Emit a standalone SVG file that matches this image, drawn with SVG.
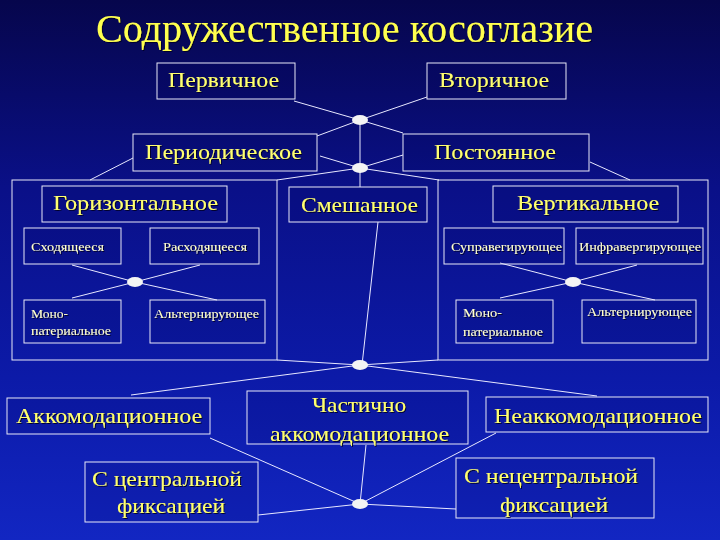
<svg xmlns="http://www.w3.org/2000/svg" width="720" height="540" viewBox="0 0 720 540">
<defs>
<linearGradient id="bg" x1="0" y1="0" x2="0" y2="1">
<stop offset="0" stop-color="#06064c"/>
<stop offset="0.35" stop-color="#0a1088"/>
<stop offset="0.7" stop-color="#0c1aa8"/>
<stop offset="1" stop-color="#1226c2"/>
</linearGradient>
<filter id="sh" x="-5%" y="-20%" width="110%" height="140%">
<feDropShadow dx="1" dy="1" stdDeviation="0.4" flood-color="#000020" flood-opacity="0.9"/>
</filter>
</defs>
<style>
.box{fill:#000050;fill-opacity:0.12;stroke:#e8e8f8;stroke-width:1}
.outer{fill:none;stroke:#e8e8f8;stroke-width:1}
.t{font-family:"Liberation Serif","Times New Roman",serif;fill:#ffff70;font-size:22px;filter:url(#sh)}
.s{font-family:"Liberation Serif","Times New Roman",serif;fill:#ffffd0;font-size:12px;filter:url(#sh)}
.title{font-family:"Liberation Serif","Times New Roman",serif;fill:#ffff50;font-size:40px;filter:url(#sh)}
.c line{stroke:#e8e8ff;stroke-width:1}
.dot{fill:#f4f4f4}
</style>
<rect width="720" height="540" fill="url(#bg)"/>
<text class="title" x="96" y="42" textLength="497" lengthAdjust="spacingAndGlyphs">Содружественное косоглазие</text>

<g id="connectors" class="c">
<line x1="294" y1="101" x2="360" y2="120"/>
<line x1="427" y1="97" x2="360" y2="120"/>
<line x1="360" y1="120" x2="317" y2="136"/>
<line x1="360" y1="120" x2="403" y2="133"/>
<line x1="360" y1="120" x2="360" y2="168"/>
<line x1="320" y1="156" x2="360" y2="168"/>
<line x1="403" y1="155" x2="360" y2="168"/>
<line x1="360" y1="168" x2="277" y2="180"/>
<line x1="360" y1="168" x2="439" y2="180"/>
<line x1="360" y1="168" x2="360" y2="187"/>
<line x1="133" y1="158" x2="90" y2="180"/>
<line x1="590" y1="162" x2="630" y2="180"/>
<line x1="72" y1="265" x2="135" y2="282"/>
<line x1="200" y1="265" x2="135" y2="282"/>
<line x1="72" y1="298" x2="135" y2="282"/>
<line x1="217" y1="300" x2="135" y2="282"/>
<line x1="500" y1="263" x2="573" y2="282"/>
<line x1="637" y1="265" x2="573" y2="282"/>
<line x1="500" y1="298" x2="573" y2="282"/>
<line x1="655" y1="300" x2="573" y2="282"/>
<line x1="378" y1="222" x2="362" y2="365"/>
<line x1="277" y1="360" x2="360" y2="365"/>
<line x1="438" y1="360" x2="360" y2="365"/>
<line x1="131" y1="395" x2="360" y2="365"/>
<line x1="597" y1="396" x2="360" y2="365"/>
<line x1="210" y1="438" x2="360" y2="504"/>
<line x1="366" y1="445" x2="360" y2="504"/>
<line x1="496" y1="433" x2="360" y2="504"/>
<line x1="258" y1="515" x2="360" y2="504"/>
<line x1="456" y1="509" x2="360" y2="504"/>
</g>

<g id="group-left"><rect class="outer" x="12" y="180" width="265" height="180"/></g>
<g id="group-right"><rect class="outer" x="438" y="180" width="270" height="180"/></g>

<g id="dots">
<ellipse class="dot" cx="360" cy="120" rx="8" ry="5"/>
<ellipse class="dot" cx="360" cy="168" rx="8" ry="5"/>
<ellipse class="dot" cx="135" cy="282" rx="8" ry="5"/>
<ellipse class="dot" cx="573" cy="282" rx="8" ry="5"/>
<ellipse class="dot" cx="360" cy="365" rx="8" ry="5"/>
<ellipse class="dot" cx="360" cy="504" rx="8" ry="5"/>
</g>

<g id="n-primary"><rect class="box" x="157" y="63" width="138" height="36"/><text class="t" x="168" y="87" textLength="111" lengthAdjust="spacingAndGlyphs">Первичное</text></g>
<g id="n-secondary"><rect class="box" x="427" y="63" width="139" height="36"/><text class="t" x="439" y="87" textLength="110" lengthAdjust="spacingAndGlyphs">Вторичное</text></g>
<g id="n-periodic"><rect class="box" x="133" y="134" width="184" height="37"/><text class="t" x="145" y="159" textLength="157" lengthAdjust="spacingAndGlyphs">Периодическое</text></g>
<g id="n-constant"><rect class="box" x="403" y="134" width="186" height="37"/><text class="t" x="434" y="159" textLength="122" lengthAdjust="spacingAndGlyphs">Постоянное</text></g>

<g id="n-horizontal"><rect class="box" x="42" y="186" width="185" height="36"/><text class="t" x="53" y="210" textLength="165" lengthAdjust="spacingAndGlyphs">Горизонтальное</text></g>
<g id="n-mixed"><rect class="box" x="289" y="187" width="138" height="35"/><text class="t" x="301" y="212" textLength="117" lengthAdjust="spacingAndGlyphs">Смешанное</text></g>
<g id="n-vertical"><rect class="box" x="493" y="186" width="185" height="36"/><text class="t" x="517" y="210" textLength="142" lengthAdjust="spacingAndGlyphs">Вертикальное</text></g>

<g id="n-conv"><rect class="box" x="24" y="228" width="97" height="36"/><text class="s" x="31" y="251" textLength="73" lengthAdjust="spacingAndGlyphs">Сходящееся</text></g>
<g id="n-div"><rect class="box" x="150" y="228" width="109" height="36"/><text class="s" x="163" y="251" textLength="84" lengthAdjust="spacingAndGlyphs">Расходящееся</text></g>
<g id="n-mono-l"><rect class="box" x="24" y="300" width="97" height="43"/><text class="s" x="31" y="318" textLength="37" lengthAdjust="spacingAndGlyphs">Моно-</text><text class="s" x="31" y="335" textLength="80" lengthAdjust="spacingAndGlyphs">патериальное</text></g>
<g id="n-alt-l"><rect class="box" x="150" y="300" width="115" height="43"/><text class="s" x="154" y="318" textLength="105" lengthAdjust="spacingAndGlyphs">Альтернирующее</text></g>

<g id="n-supra"><rect class="box" x="444" y="228" width="120" height="36"/><text class="s" x="451" y="251" textLength="111" lengthAdjust="spacingAndGlyphs">Суправегирующее</text></g>
<g id="n-infra"><rect class="box" x="576" y="228" width="127" height="36"/><text class="s" x="579" y="251" textLength="122" lengthAdjust="spacingAndGlyphs">Инфравергирующее</text></g>
<g id="n-mono-r"><rect class="box" x="456" y="300" width="97" height="43"/><text class="s" x="463" y="317" textLength="39" lengthAdjust="spacingAndGlyphs">Моно-</text><text class="s" x="463" y="336" textLength="80" lengthAdjust="spacingAndGlyphs">патериальное</text></g>
<g id="n-alt-r"><rect class="box" x="582" y="300" width="114" height="43"/><text class="s" x="587" y="316" textLength="105" lengthAdjust="spacingAndGlyphs">Альтернирующее</text></g>

<g id="n-accom"><rect class="box" x="7" y="398" width="203" height="36"/><text class="t" x="16" y="423" textLength="186" lengthAdjust="spacingAndGlyphs">Аккомодационное</text></g>
<g id="n-partial"><rect class="box" x="247" y="391" width="221" height="53"/><text class="t" x="312" y="412" textLength="94" lengthAdjust="spacingAndGlyphs">Частично</text><text class="t" x="270" y="441" textLength="179" lengthAdjust="spacingAndGlyphs">аккомодационное</text></g>
<g id="n-nonaccom"><rect class="box" x="486" y="397" width="222" height="35"/><text class="t" x="494" y="423" textLength="208" lengthAdjust="spacingAndGlyphs">Неаккомодационное</text></g>

<g id="n-central"><rect class="box" x="85" y="462" width="173" height="60"/><text class="t" x="92" y="486" textLength="150" lengthAdjust="spacingAndGlyphs">С центральной</text><text class="t" x="117" y="513" textLength="108" lengthAdjust="spacingAndGlyphs">фиксацией</text></g>
<g id="n-noncentral"><rect class="box" x="456" y="458" width="198" height="60"/><text class="t" x="464" y="483" textLength="174" lengthAdjust="spacingAndGlyphs">С нецентральной</text><text class="t" x="500" y="512" textLength="108" lengthAdjust="spacingAndGlyphs">фиксацией</text></g>
</svg>
